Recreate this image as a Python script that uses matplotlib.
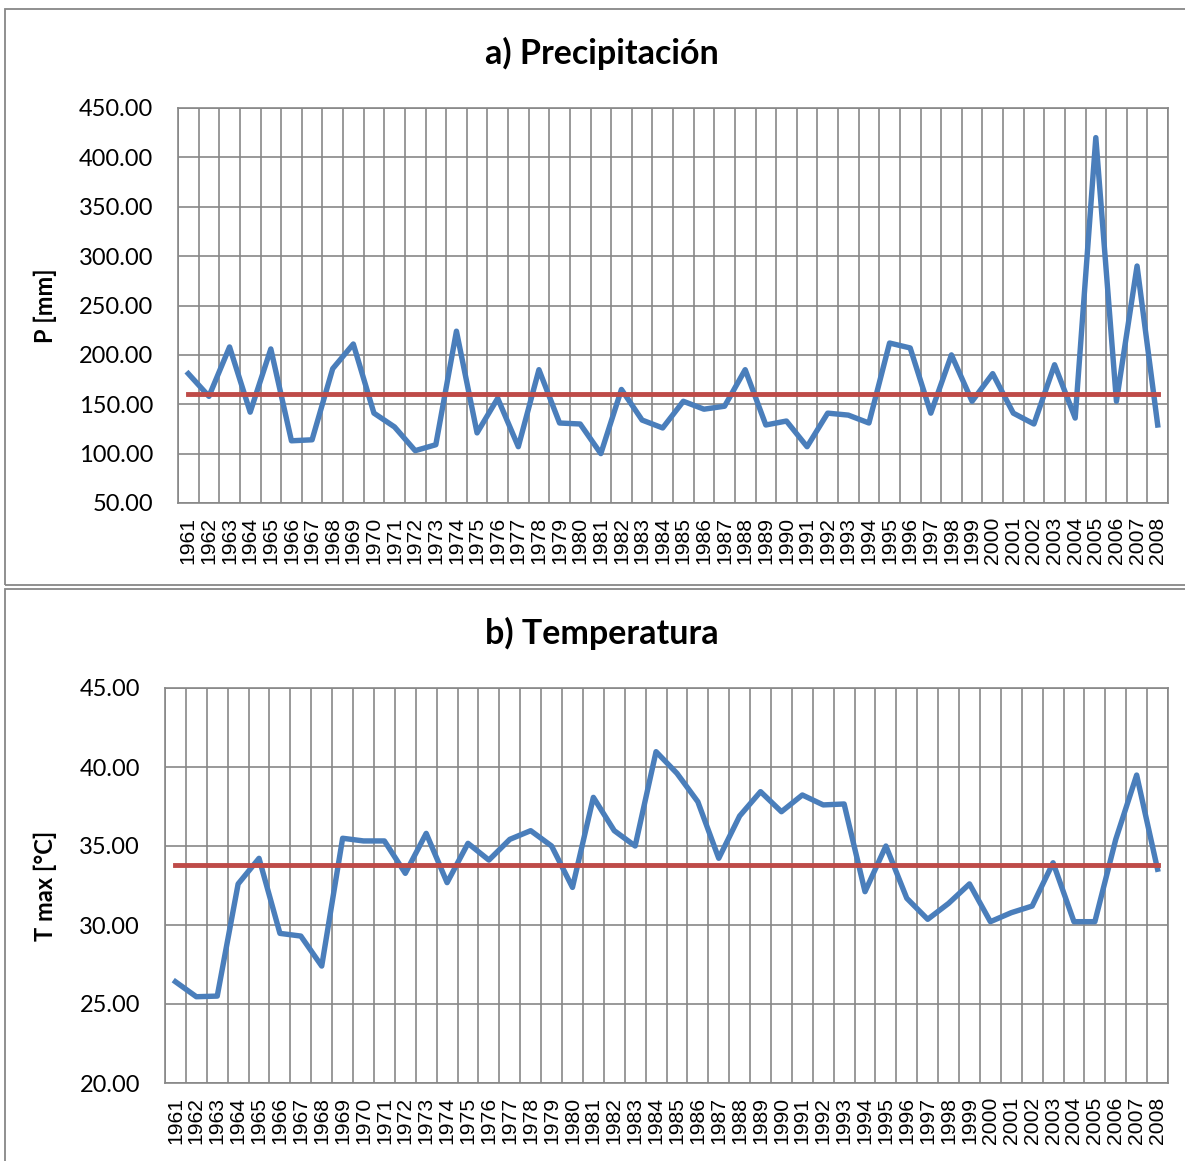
import numpy as np
import matplotlib.pyplot as plt
from matplotlib.patches import Rectangle

anios = list(range(1961, 2009))

precip = [181, 158, 208, 142, 206, 113, 114, 186, 211, 141,
          127, 103, 109, 224, 121, 156, 107, 185, 131, 130,
          100, 165, 134, 126, 153, 145, 148, 185, 129, 133,
          107, 141, 139, 131, 212, 207, 141, 200, 153, 181,
          141, 130, 190, 136, 420, 153, 290, 129]
precip_media = 160.0

tmax = [26.41, 25.46, 25.50, 32.60, 34.22, 29.47, 29.30, 27.40, 35.49, 35.32,
        35.32, 33.27, 35.80, 32.68, 35.17, 34.11, 35.42, 35.97, 35.00, 32.38,
        38.08, 35.97, 35.00, 40.97, 39.60, 37.80, 34.22, 36.90, 38.44, 37.17,
        38.23, 37.60, 37.66, 32.11, 35.00, 31.69, 30.36, 31.37, 32.60, 30.21,
        30.78, 31.20, 33.94, 30.21, 30.21, 35.42, 39.49, 33.53]
tmax_media = 33.8

azul = '#4A7EBB'
rojo = '#BE4B48'
gris = '#878787'

W, H = 1185, 1161
fig = plt.figure(figsize=(W / 100, H / 100), dpi=100)


def px_axes(x0, y0, x1, y1):
    # convierte pixeles (origen arriba-izquierda) a fraccion de figura
    return fig.add_axes([x0 / W, 1 - y1 / H, (x1 - x0) / W, (y1 - y0) / H])


# marcos de cada grafico
for (y0, y1) in [(9, 585), (589, 1170)]:
    fig.patches.append(Rectangle((5 / W, 1 - y1 / H), (W + 10) / W, (y1 - y0) / H,
                                 transform=fig.transFigure, fill=False,
                                 edgecolor=gris, linewidth=1.3, clip_on=False))


def dibujar(ax, valores, media, ymin, ymax, paso, etiqueta, titulo, ytit):
    x = np.arange(len(anios))
    ax.plot(x, valores, color=azul, lw=3.9, zorder=3)
    ax.plot(x, [media] * len(anios), color=rojo, lw=3.5, zorder=3)
    ax.set_xlim(-0.5, len(anios) - 0.5)
    ax.set_ylim(ymin, ymax)
    marcas = np.arange(ymin, ymax + paso / 2, paso)
    ax.set_yticks(marcas)
    ax.set_yticklabels(['%.2f' % v for v in marcas], fontfamily='Lato', fontsize=17)
    ax.set_xticks(x)
    ax.set_xticklabels([str(a) for a in anios], rotation=90,
                       fontfamily='Liberation Sans', fontsize=15.2, va='top')
    ax.set_xticks(np.arange(len(anios) + 1) - 0.5, minor=True)
    ax.tick_params(axis='both', which='both', length=0)
    ax.tick_params(axis='y', pad=18)
    ax.tick_params(axis='x', pad=10)
    ax.grid(True, axis='y', which='major', color=gris, lw=1.2)
    ax.grid(True, axis='x', which='minor', color=gris, lw=1.2)
    for s in ax.spines.values():
        s.set_color(gris)
        s.set_linewidth(1.2)
    ax.set_ylabel(etiqueta, fontfamily='Lato', fontweight='bold', fontsize=17)
    fig.text(602 / W, 1 - ytit / H, titulo, ha='center', va='center',
             fontfamily='Lato', fontweight='bold', fontsize=24.5)


ax1 = px_axes(178, 108, 1168, 503)
dibujar(ax1, precip, precip_media, 50, 450, 50, 'P [mm]', 'a) Precipitación', 53)
ax1.yaxis.set_label_coords((57 - 178) / (1168 - 178), 0.5)

ax2 = px_axes(165, 688, 1168, 1083)
dibujar(ax2, tmax, tmax_media, 20, 45, 5, 'T max [°C]', 'b) Temperatura', 633)
ax2.yaxis.set_label_coords((57 - 165) / (1168 - 165), 0.5)

fig.savefig('out.png', dpi=100)
